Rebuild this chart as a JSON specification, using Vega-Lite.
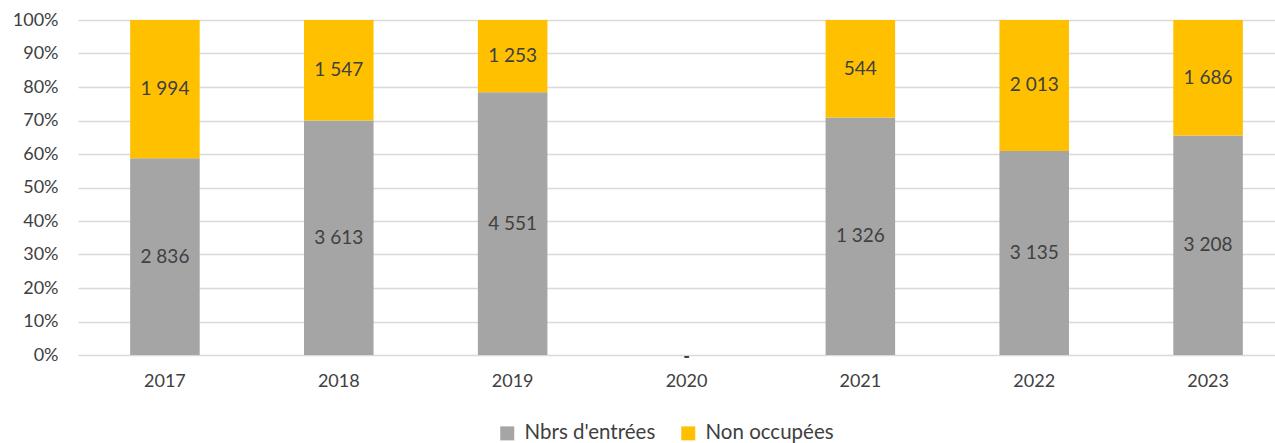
{
  "$schema": "https://vega.github.io/schema/vega-lite/v6.json",
  "autosize": "none",
  "width": 1217,
  "height": 335,
  "padding": {"left": 78, "top": 20, "right": 0, "bottom": 88},
  "background": "white",
  "config": {
    "view": {"stroke": null},
    "font": "Lato",
    "locale": {"number": {"decimal": ",", "thousands": " ", "grouping": [3], "currency": ["", " €"]}},
    "axis": {"labelFont": "Lato", "labelFontSize": 18, "labelColor": "#404040", "ticks": false, "domain": false, "title": null, "labelOverlap": false},
    "axisY": {"format": ".0%", "values": [0, 0.1, 0.2, 0.3, 0.4, 0.5, 0.6, 0.7, 0.8, 0.9, 1], "gridColor": "#D9D9D9", "gridWidth": 1.5, "labelPadding": 20, "labelFontSize": 18}
  },
  "data": {
    "values": [
      {"year": "2017", "serie": "Nbrs d'entrées", "value": 2836},
      {"year": "2017", "serie": "Non occupées", "value": 1994},
      {"year": "2018", "serie": "Nbrs d'entrées", "value": 3613},
      {"year": "2018", "serie": "Non occupées", "value": 1547},
      {"year": "2019", "serie": "Nbrs d'entrées", "value": 4551},
      {"year": "2019", "serie": "Non occupées", "value": 1253},
      {"year": "2020", "serie": "Nbrs d'entrées", "value": 0},
      {"year": "2020", "serie": "Non occupées", "value": 0},
      {"year": "2021", "serie": "Nbrs d'entrées", "value": 1326},
      {"year": "2021", "serie": "Non occupées", "value": 544},
      {"year": "2022", "serie": "Nbrs d'entrées", "value": 3135},
      {"year": "2022", "serie": "Non occupées", "value": 2013},
      {"year": "2023", "serie": "Nbrs d'entrées", "value": 3208},
      {"year": "2023", "serie": "Non occupées", "value": 1686}
    ]
  },
  "encoding": {
    "x": {
      "field": "year", "type": "ordinal",
      "scale": {"paddingInner": 0.6, "paddingOuter": 0.3},
      "axis": {"labelAngle": 0, "labelPadding": 17, "labelFontSize": 18}
    }
  },
  "layer": [
    {
      "transform": [{"filter": "datum.value > 0"}],
      "mark": {"type": "bar"},
      "encoding": {
        "y": {
          "field": "value", "type": "quantitative", "stack": "normalize",
          "scale": {"domain": [0, 1]},
          "axis": {"format": ".0%", "values": [0, 0.1, 0.2, 0.3, 0.4, 0.5, 0.6, 0.7, 0.8, 0.9, 1]}
        },
        "color": {
          "field": "serie", "type": "nominal",
          "scale": {"domain": ["Nbrs d'entrées", "Non occupées"], "range": ["#A5A5A5", "#FFC000"]},
          "legend": {
            "title": null, "orient": "none", "direction": "horizontal",
            "legendX": 419, "legendY": 403,
            "symbolType": "square", "symbolSize": 196, "symbolStrokeWidth": 0,
            "labelFont": "Lato", "labelFontSize": 20.5, "labelColor": "#404040",
            "columnPadding": 22, "symbolOffset": 0, "labelOffset": 7
          }
        },
        "order": {"field": "serie", "sort": "ascending"}
      }
    },
    {
      "transform": [
        {"filter": "datum.value > 0"},
        {"stack": "value", "groupby": ["year"], "sort": [{"field": "serie", "order": "ascending"}], "offset": "normalize", "as": ["y0", "y1"]},
        {"fold": ["y0", "y1"], "as": ["k", "pos"]},
        {"aggregate": [{"op": "mean", "field": "pos", "as": "mid"}, {"op": "max", "field": "value", "as": "n"}], "groupby": ["year", "serie"]}
      ],
      "mark": {"type": "text", "fontSize": 19, "color": "#404040", "baseline": "middle", "font": "Lato"},
      "encoding": {
        "y": {"field": "mid", "type": "quantitative", "axis": {"format": ".0%", "values": [0, 0.1, 0.2, 0.3, 0.4, 0.5, 0.6, 0.7, 0.8, 0.9, 1]}},
        "text": {"field": "n", "type": "quantitative", "format": ",d"}
      }
    },
    {
      "transform": [{"filter": "datum.value == 0 && datum.serie == 'Nbrs d\\'entrées'"}],
      "mark": {"type": "text", "fontSize": 18, "fontWeight": "bold", "color": "#404040", "baseline": "middle", "font": "Lato", "dy": 3},
      "encoding": {
        "y": {"datum": 0, "type": "quantitative", "axis": {"format": ".0%", "values": [0, 0.1, 0.2, 0.3, 0.4, 0.5, 0.6, 0.7, 0.8, 0.9, 1]}},
        "text": {"value": "-"}
      }
    }
  ]
}
